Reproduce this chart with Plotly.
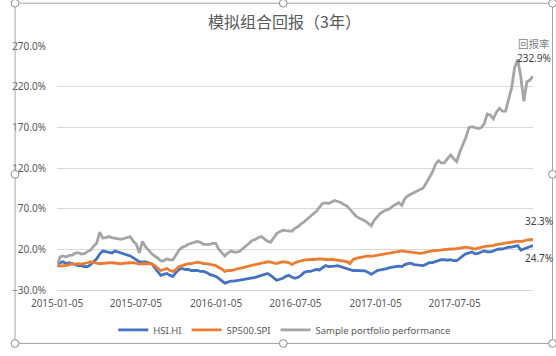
import plotly.graph_objects as go
import pandas as pd

W, H = 556, 356
L, R, T, B = 45, 533, 46, 297

dates = pd.date_range("2015-01-05", periods=157, freq="7D")

hsi = [0.0, 3.5, 4.7, 2.3, 3.5, 2.3, 1.1, -0.1, 0.0, -1.3,
       -1.3, 1.1, 4.7, 8.3, 14.2, 17.9, 17.3, 16.7, 15.5, 17.9,
       16.7, 14.9, 14.3, 13.1, 11.9, 9.5, 7.1, 4.7, 4.7, 4.7,
       3.5, 2.3, -2.5, -7.2, -12.0, -10.8, -9.6, -12.0, -13.2, -8.4,
       -4.8, -3.6, -4.8, -4.8, -6.0, -6.0, -6.0, -7.2, -7.2, -8.4,
       -10.8, -12.0, -13.2, -15.6, -19.2, -21.6, -20.4, -19.2, -19.2, -18.6,
       -18.0, -16.8, -16.2, -15.6, -15.0, -14.4, -13.2, -12.0, -10.8, -9.6,
       -12.0, -15.6, -18.0, -16.8, -15.6, -13.2, -12.0, -14.4, -15.6, -14.4,
       -12.0, -8.4, -7.2, -7.2, -6.0, -4.8, -5.4, -2.4, 0.0, -1.2,
       -1.2, -0.6, 0.0, -1.2, -2.4, -3.6, -5.4, -6.0, -6.0, -6.0,
       -6.0, -6.6, -8.4, -10.8, -8.4, -6.0, -5.4, -4.8, -3.6, -2.4,
       -1.8, -1.2, -0.6, -1.2, 1.2, 2.4, 3.0, 1.2, 0.6, 0.0,
       0.0, 1.8, 3.6, 3.6, 4.8, 6.0, 7.2, 7.2, 6.6, 7.2,
       6.0, 6.0, 9.6, 12.0, 14.4, 15.6, 16.8, 14.4, 15.0, 16.8,
       18.0, 16.8, 16.8, 18.0, 19.8, 20.4, 20.4, 21.6, 22.8, 22.8,
       23.4, 24.6, 19.2, 20.4, 21.6, 23.4, 24.7]

sp500 = [0.0, -0.6, 0.0, 0.0, 1.2, 2.3, 1.8, 2.3, 1.8, 2.3,
         3.5, 4.7, 3.5, 2.9, 2.3, 2.9, 3.5, 3.5, 3.5, 2.9,
         2.3, 2.3, 2.9, 3.5, 3.5, 3.5, 2.9, 1.8, 2.3, 2.3,
         1.8, 2.3, 0.0, -3.5, -6.0, -4.8, -3.6, -6.0, -7.2, -4.8,
         -1.2, 0.0, 1.2, 2.4, 2.4, 3.6, 4.2, 3.6, 2.4, 2.4,
         1.8, 1.2, 0.0, -2.4, -4.2, -7.2, -6.0, -6.0, -4.8, -3.6,
         -3.0, -2.4, -1.2, -0.6, 0.6, 1.2, 2.4, 3.0, 3.6, 4.8,
         4.2, 3.6, 2.4, 3.6, 4.8, 4.2, 3.6, 1.2, 3.6, 4.8,
         6.0, 6.6, 7.2, 7.2, 7.2, 7.8, 8.4, 7.8, 7.8, 7.2,
         7.8, 7.2, 6.6, 6.6, 6.0, 4.8, 2.4, 7.2, 9.0, 9.6,
         10.8, 11.4, 12.0, 11.4, 12.0, 12.6, 13.2, 14.4, 15.0, 15.6,
         15.6, 16.2, 17.4, 18.0, 17.4, 16.8, 16.8, 16.2, 15.6, 15.0,
         15.6, 16.8, 17.4, 18.0, 18.0, 18.6, 19.2, 19.8, 20.4, 20.4,
         20.4, 21.0, 21.6, 22.2, 22.8, 22.2, 21.6, 20.4, 21.6, 22.8,
         23.4, 24.0, 24.0, 24.6, 25.8, 26.4, 27.0, 27.6, 28.8, 28.8,
         29.4, 30.0, 29.4, 30.6, 31.2, 31.8, 32.3]

sample = [0.0, 10.6, 11.8, 10.5, 12.5, 13.0, 15.4, 16.0, 14.2, 14.8,
          17.2, 19.0, 23.8, 27.4, 41.0, 34.0, 34.5, 35.7, 34.5, 33.9,
          32.8, 32.2, 33.3, 34.5, 35.7, 29.8, 26.2, 15.5, 29.8, 23.2,
          18.4, 14.8, 11.8, 9.4, 5.9, 5.9, 8.3, 7.1, 7.1, 13.0,
          19.0, 22.6, 23.8, 26.2, 27.4, 28.6, 29.8, 28.6, 26.2, 26.2,
          26.2, 27.4, 27.4, 20.2, 15.4, 11.8, 15.4, 17.8, 16.6, 16.6,
          17.8, 21.4, 25.0, 28.6, 31.0, 32.2, 34.5, 35.7, 32.2, 29.8,
          28.6, 34.5, 39.3, 41.7, 43.5, 42.9, 42.3, 42.3, 45.9, 47.7,
          51.3, 53.7, 57.3, 60.2, 63.2, 66.8, 71.6, 76.4, 77.0, 76.4,
          78.2, 80.0, 78.8, 77.6, 75.2, 73.4, 69.2, 64.4, 60.8, 58.4,
          56.7, 54.9, 51.9, 48.9, 56.1, 60.8, 64.4, 66.8, 68.0, 69.8,
          72.8, 75.2, 77.6, 74.0, 82.4, 86.0, 87.8, 89.5, 91.3, 93.1,
          95.5, 101.5, 107.5, 114.6, 124.2, 129.0, 126.0, 126.6, 131.4, 136.1,
          131.4, 127.8, 139.7, 148.1, 157.6, 169.6, 170.8, 169.6, 168.4, 169.6,
          174.4, 186.3, 185.1, 180.4, 188.7, 193.5, 189.9, 189.9, 205.5, 218.6,
          243.7, 253.3, 231.8, 201.9, 225.8, 228.2, 232.9]

series_names = ["HSI.HI", "SP500.SPI", "Sample portfolio performance"]
series_colors = ["#4472C4", "#ED7D31", "#A5A5A5"]

tick_dates = ["2015-01-05", "2015-07-05", "2016-01-05", "2016-07-05", "2017-01-05", "2017-07-05"]
title_text = "模拟组合回报（3年）"
end_labels = ["232.9%", "32.3%", "24.7%"]
end_header = "回报率"


def px(x):
    return (x - L) / (R - L)


def py(y):
    return (B - y) / (B - T)


fig = go.Figure()
for name, vals, col in zip(series_names, [hsi, sp500, sample], series_colors):
    fig.add_trace(go.Scatter(x=dates, y=vals, name=name, mode="lines",
                             line=dict(color=col, width=2.8)))

font_main = "Noto Sans, Lato, sans-serif"
cjk = "Noto Sans CJK SC, Noto Sans, sans-serif"

fig.update_layout(
    width=W, height=H,
    margin=dict(l=L, r=W - R, t=T, b=H - B),
    paper_bgcolor="white", plot_bgcolor="white",
    showlegend=True,
    legend=dict(orientation="h", x=px(278), xanchor="center", y=py(338), yanchor="middle",
                font=dict(family=font_main, size=9.5, color="#595959"),
                itemwidth=30, tracegroupgap=0, bgcolor="rgba(0,0,0,0)"),
    xaxis=dict(type="date", range=[dates[0], dates[-1]],
               tickvals=tick_dates, ticktext=tick_dates,
               showgrid=False, zeroline=False,
               showline=True, linecolor="#D9D9D9", linewidth=1,
               ticks="outside", ticklen=4, tickcolor="rgba(0,0,0,0)",
               tickfont=dict(family=font_main, size=10, color="#595959")),
    yaxis=dict(range=[-30, 270], tick0=-30, dtick=50,
               tickformat=".1f", ticksuffix="%",
               showgrid=True, gridcolor="#D9D9D9", gridwidth=1,
               zeroline=False, showline=False,
               ticks="outside", ticklen=8, tickcolor="rgba(0,0,0,0)",
               tickfont=dict(family=font_main, size=10, color="#595959")),
)

annots = [
    dict(text=title_text, x=px(278), y=py(20), font=dict(family=cjk, size=16, color="#595959")),
    dict(text=end_header, x=px(534), y=py(43), font=dict(family=cjk, size=10.5, color="#7F7F7F")),
    dict(text=end_labels[0], x=px(534), y=py(58), font=dict(family=font_main, size=10, color="#404040")),
    dict(text=end_labels[1], x=px(539), y=py(226), font=dict(family=font_main, size=10, color="#404040")),
    dict(text=end_labels[2], x=px(539), y=py(264), font=dict(family=font_main, size=10, color="#404040")),
]
for a in annots:
    fig.add_annotation(xref="paper", yref="paper", showarrow=False,
                       xanchor="center", yanchor="middle", **a)

shapes = [dict(type="rect", xref="paper", yref="paper",
               x0=px(2), x1=px(553), y0=py(352), y1=py(2),
               line=dict(color="#A6A6A6", width=1), fillcolor="rgba(0,0,0,0)", layer="above")]
handles = [(2, 2), (277, 2), (553, 2), (2, 178), (553, 178), (2, 352), (277, 352), (553, 352)]
for hx, hy in handles:
    shapes.append(dict(type="circle", xref="paper", yref="paper",
                       x0=px(hx - 4), x1=px(hx + 4), y0=py(hy + 4), y1=py(hy - 4),
                       line=dict(color="#8C8C8C", width=1), fillcolor="white", layer="above"))
fig.update_layout(shapes=shapes)

fig.write_html("out.html", config={"displayModeBar": False},
               post_script="document.body.style.margin='0';document.body.style.overflow='hidden';")
